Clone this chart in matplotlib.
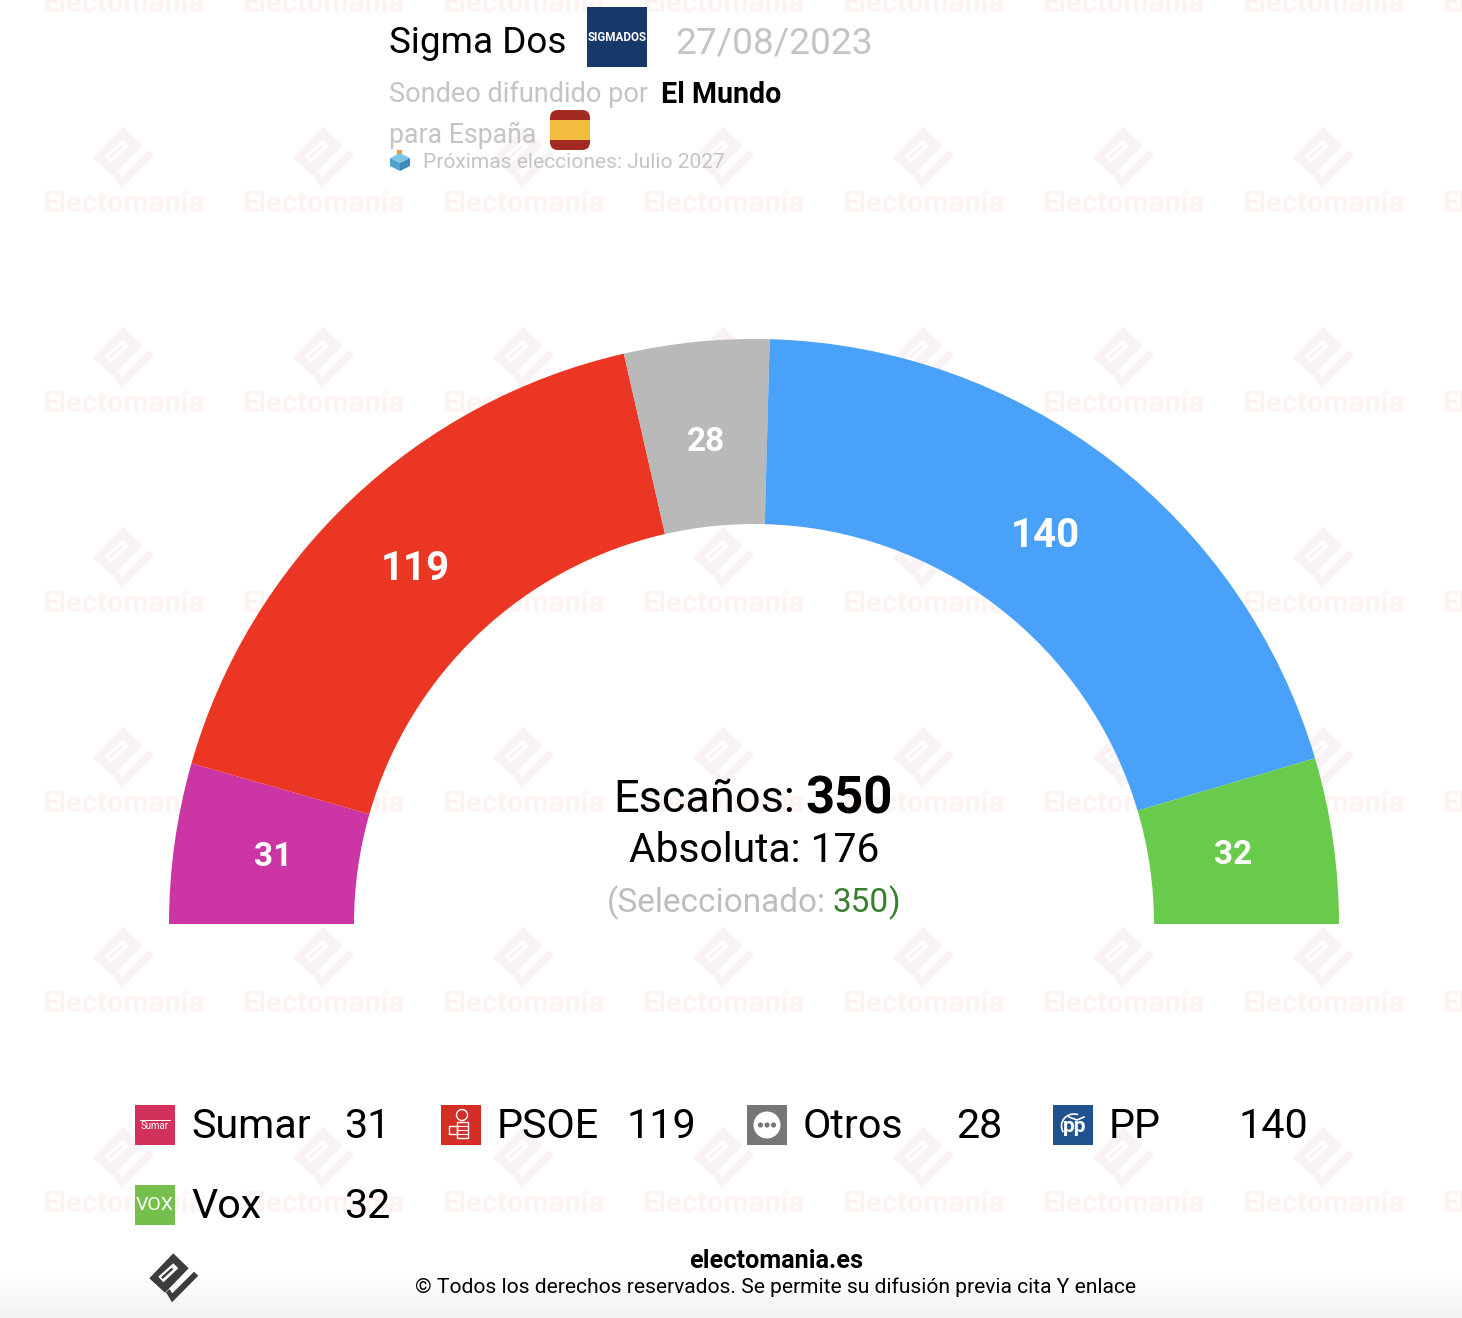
import numpy as np
import matplotlib
matplotlib.use("Agg")
import matplotlib.pyplot as plt
from matplotlib.patches import Wedge, Polygon, Rectangle, Circle, FancyBboxPatch, Arc

plt.rcParams["font.family"] = ["Roboto", "DejaVu Sans"]

# Data
parties = ["Sumar", "PSOE", "Otros", "PP", "Vox"]
seats = [31, 119, 28, 140, 32]
colors = ["#cb35a4", "#ec3624", "#b9b9b9", "#4aa1fa", "#68cb4c"]
legend_order = ["Sumar", "PSOE", "Otros", "PP", "Vox"]
icon_colors = ["#d1315a", "#d42e26", "#767676", "#20528f", "#75c04c"]
total_seats = 350
majority = 176
selected = 350

pollster = "Sigma Dos"
poll_date = "27/08/2023"
media = "El Mundo"

# Logo outline, pixels around its centre
logo_ring = [(-0.7, -23.7), (14.7, -8.7), (-9, 15.7), (-24.7, 1.3)]
logo_hole = [(-0.7, -13.7), (4.3, -8.7), (-10.7, 5.3), (-15.7, -0.3)]
logo_slit = [(-2.3, -9.3), (-0.7, -7.7), (-11.3, 2), (-13, 0.3)]
logo_check = [(-8, 15.3), (-2, 25.3), (24.3, -1.3), (20, -5.3), (-1.7, 16.3), (-4.7, 12)]

fig = plt.figure(figsize=(14.62, 13.18), dpi=100, facecolor="white")
ax = fig.add_axes([0, 0, 1, 1])

# bottom fade
fade = np.linspace(1, 0.945, 50).reshape(-1, 1)
ax.imshow(fade, extent=(0, 1462, 1318, 1268), cmap="gray", vmin=0, vmax=1, aspect="auto", zorder=0)
ax.set_xlim(0, 1462)
ax.set_ylim(1318, 0)
ax.axis("off")


def offset(points, cx, cy, s):
    return [(cx + x * s, cy + y * s) for x, y in points]


def draw_logo(cx, cy, s, dark, light, z):
    ax.add_patch(Polygon(offset(logo_ring, cx, cy, s), fc=dark, ec="none", zorder=z))
    ax.add_patch(Polygon(offset(logo_hole, cx, cy, s), fc=light, ec="none", zorder=z))
    ax.add_patch(Polygon(offset(logo_slit, cx, cy, s), fc=dark, ec="none", zorder=z))
    ax.add_patch(Polygon(offset(logo_check, cx, cy, s), fc=dark, ec="none", zorder=z))


# watermark
for wy in range(2, 1400, 200):
    for wx in range(124, 1600, 200):
        draw_logo(wx, wy - 45.4, 1.25, "#f9f2f5", "white", 1)
        ax.text(wx - 1, wy + 10, "Electomanía", fontsize=21, fontweight="bold", color="#fdf3f0",
                ha="center", va="baseline", zorder=1, clip_on=True)

# arc
cx, cy = 754, 924
outer, inner = 585, 400
nudge = {"Sumar": (7, 1), "PSOE": (0, 3), "Otros": (1, 8), "PP": (-9, 3), "Vox": (-8, 1)}
start = 0
for name, n, col in zip(parties, seats, colors):
    t1 = 180 + start / total_seats * 180
    t2 = 180 + (start + n) / total_seats * 180
    ax.add_patch(Wedge((cx, cy), outer, t1, t2, width=outer - inner, fc=col, ec="none", zorder=2))
    mid = np.radians((t1 + t2) / 2)
    r = (outer + inner) / 2
    dx, dy = nudge[name]
    ax.text(cx + r * np.cos(mid) + dx, cy + r * np.sin(mid) + dy, str(n), color="white",
            fontweight="bold", fontsize=29 if n > 100 else 24, ha="center", va="center", zorder=3)
    start += n

# centre text
ax.text(613, 812, "Escaños:", fontsize=32.5, color="black", zorder=3)
ax.text(805, 813, str(total_seats), fontsize=36.5, fontweight="bold", color="black", zorder=3)
ax.text(754, 862, f"Absoluta: {majority}", fontsize=29.3, color="black", ha="center", zorder=3)
ax.text(607, 912, "(Seleccionado:", fontsize=24, color="#bdbdbd", zorder=3)
ax.text(833, 912, str(selected), fontsize=24, color="#35802a", zorder=3)
ax.text(888, 912, ")", fontsize=24, color="#35802a", zorder=3)

# header
ax.text(389, 53, pollster, fontsize=26.6, color="black", zorder=3)
ax.text(675, 53, poll_date, fontsize=26.7, color="#c4c4c4", zorder=3)
ax.add_patch(Rectangle((587, 7), 60, 60, fc="#16396a", ec="none", zorder=3))
ax.text(617, 37.5, "SIGMADOS", fontsize=8.4, fontweight="bold", color="white", ha="center", va="center", zorder=4)
ax.text(389, 102, "Sondeo difundido por", fontsize=19.5, color="#c4c4c4", zorder=3)
ax.text(661, 103, media, fontsize=20.6, fontweight="bold", color="black", zorder=3)
ax.text(389, 143, "para España", fontsize=19.2, color="#c4c4c4", zorder=3)
flag = FancyBboxPatch((550, 110), 40, 40, boxstyle="round,pad=0,rounding_size=8", fc="#a32a22", ec="none", zorder=3)
ax.add_patch(flag)
ax.add_patch(Rectangle((550, 120), 40, 20, fc="#f2bd3e", ec="none", zorder=4))
# ballot box
ax.add_patch(Rectangle((397, 150), 5, 7, fc="#ee9a3a", ec="none", zorder=3))
ax.add_patch(Polygon([(390, 158), (400, 153), (410, 158), (400, 163)], fc="#7cc6e6", ec="none", zorder=4))
ax.add_patch(Polygon([(390, 158), (400, 163), (400, 171), (390, 166)], fc="#4ea3cc", ec="none", zorder=4))
ax.add_patch(Polygon([(410, 158), (400, 163), (400, 171), (410, 166)], fc="#3a8bb5", ec="none", zorder=4))
ax.text(423, 168, "Próximas elecciones: Julio 2027", fontsize=15.1, color="#c4c4c4", zorder=3)


# legend icons
def draw_icon(name, x, y, col):
    ax.add_patch(Rectangle((x, y), 40, 40, fc=col, ec="none", zorder=3))
    mx, my = x + 20, y + 20
    if name == "Sumar":
        ax.plot([x + 5, x + 35], [y + 15, y + 15], color="white", lw=0.7, zorder=4)
        ax.text(mx, my + 1, "Sumar", fontsize=7, color="white", ha="center", va="center", zorder=4)
    elif name == "PSOE":
        ax.add_patch(Circle((mx + 1, y + 10), 5.5, fc="none", ec="white", lw=1, zorder=4))
        ax.add_patch(Rectangle((mx - 4, y + 17), 11, 16, fc="none", ec="white", lw=1, zorder=4))
        ax.add_patch(Rectangle((mx - 12, y + 21), 8, 8, fc="none", ec="white", lw=1, zorder=4))
        for k in range(3):
            ax.plot([mx - 4, mx + 7], [y + 21 + 4 * k, y + 21 + 4 * k], color="white", lw=0.8, zorder=4)
    elif name == "Otros":
        ax.add_patch(Circle((mx, my), 13.5, fc="white", ec="none", zorder=4))
        for k in (-6.5, 0, 6.5):
            ax.add_patch(Circle((mx + k, my), 2.6, fc=col, ec="none", zorder=5))
    elif name == "PP":
        ax.text(mx + 2, my + 2, "pp", fontsize=15, fontweight="bold", color="white", ha="center", va="center", zorder=4)
        ax.add_patch(Arc((mx + 1, my + 1), 25, 24, theta1=150, theta2=290, ec="white", lw=1.2, zorder=4))
        ax.plot([mx - 4, mx + 4, mx + 11], [my - 8, my - 5, my - 8], color="white", lw=1.2, zorder=4)
    elif name == "Vox":
        ax.text(mx, my, "VOX", fontsize=14, color="white", ha="center", va="center", zorder=4)


for i, name in enumerate(legend_order):
    x = 135 + 306 * (i % 4)
    y = 1105 + 80 * (i // 4)
    draw_icon(name, x, y, icon_colors[i])
    ax.text(x + 56, y + 33, name, fontsize=29.7, color="black", zorder=3)
    ax.text(x + 255.5, y + 33, str(seats[parties.index(name)]), fontsize=29.7, color="black", ha="right", zorder=3)

# footer
draw_logo(174, 1277, 1.0, "#3c3c3c", "white", 3)
ax.text(776, 1268, "electomania.es", fontsize=18.2, fontweight="bold", color="black", ha="center", zorder=3)
ax.text(775.5, 1293, "© Todos los derechos reservados. Se permite su difusión previa cita Y enlace",
        fontsize=15.1, color="black", ha="center", zorder=3)

fig.savefig("out.png", dpi=100)
